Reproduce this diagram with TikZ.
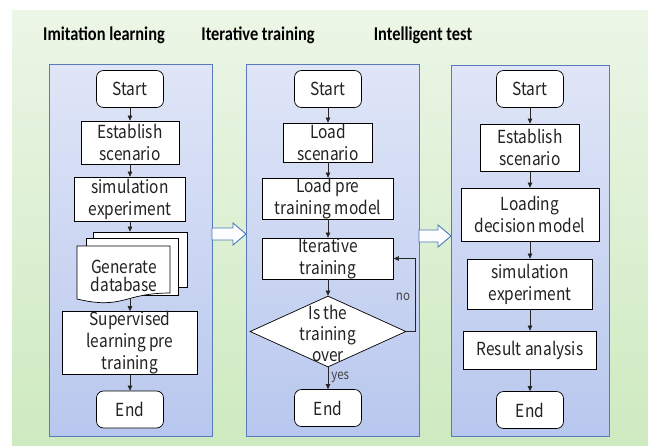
\documentclass[tikz,border=0pt]{standalone}
\usepackage{fontspec}
\usetikzlibrary{arrows.meta,shapes.geometric}
\newfontfamily\nodefont[FakeStretch=0.86]{Noto Sans CJK SC}
\newfontfamily\headfont[FakeStretch=0.84]{Carlito}
\definecolor{bgtop}{RGB}{236,246,231}
\definecolor{bgbot}{RGB}{206,234,192}
\definecolor{paneltop}{RGB}{224,230,247}
\definecolor{panelbot}{RGB}{184,199,238}
\definecolor{panelline}{RGB}{88,122,186}
\definecolor{bigarrow}{RGB}{74,120,192}
\definecolor{ink}{RGB}{34,34,34}
\begin{document}
\begin{tikzpicture}[x=1pt,y=-1pt,
  panel/.style={draw=panelline,line width=0.9pt,top color=paneltop,bottom color=panelbot},
  heading/.style={font=\headfont\bfseries\fontsize{19.5}{22}\selectfont,text=black},
  box/.style={draw=black,line width=0.7pt,fill=white,rectangle,inner sep=0pt,align=center,
    font=\nodefont\fontsize{18}{22}\selectfont,text=ink},
  term/.style={box,rounded corners=7pt,minimum width=67,minimum height=37},
  txt/.style={inner sep=0pt,align=center,font=\nodefont\fontsize{18}{22}\selectfont,text=ink},
  small/.style={inner sep=0pt,font=\nodefont\fontsize{13.5}{15}\selectfont,text=ink!85},
  flow/.style={draw=black!85,line width=0.6pt,-{Triangle[length=5pt,width=4.5pt]}},
  hollow/.style={draw=bigarrow,line width=0.9pt,fill=white!92!blue!8}]
% canvas and background
\useasboundingbox (0,0) rectangle (648,445);
\fill[white] (0,0) rectangle (648,445);
\shade[top color=bgtop,bottom color=bgbot] (12,10) rectangle (648,445);

% headings
\node[heading] (h1) at (104,35) {Imitation learning};
\node[heading] (h2) at (258,35) {Iterative training};
\node[heading] (h3) at (423,35) {Intelligent test};

% panels
\path[panel] (49,64) rectangle (212,436);
\path[panel] (246,64) rectangle (419,436);
\path[panel] (451,65) rectangle (609,436);

% hollow arrows between panels
\path[hollow] (212,228) -- (233,228) -- (233,223) -- (246,234) -- (233,245) -- (233,240) -- (212,240) -- cycle;
\path[hollow] (419,230) -- (438,230) -- (438,225) -- (451,236) -- (438,247) -- (438,242) -- (419,242) -- cycle;

% ---- Imitation learning ----
\node[term] (s1) at (130,89) {Start};
\node[box,minimum width=98,minimum height=43] (e1) at (130,142.5) {Establish\\scenario};
\node[box,minimum width=111,minimum height=44] (m1) at (130,199) {simulation\\experiment};
% stacked documents
\node[box,minimum width=94,minimum height=55] (d3) at (140,259.5) {};
\node[box,minimum width=92,minimum height=57] (d2) at (132,266.5) {};
\draw[black,line width=0.7pt,fill=white] (77,246) -- (170,246) -- (170,293)
  .. controls (123.5,293) and (123.5,310) .. (77,299) -- cycle;
\node[txt,font=\nodefont\fontsize{18}{18.5}\selectfont] (d1) at (124,276) {Generate\\database};
\coordinate (d1b) at (130,299);
\node[box,minimum width=135,minimum height=60] (p1) at (130,343) {Supervised\\learning pre\\training};
\node[term] (t1) at (130,409.5) {End};

\draw[flow] (s1) -- (e1);
\draw[flow] (e1) -- (m1);
\draw[flow] (m1) -- (m1 |- d3.north);
\draw[flow] (d1b) -- (p1);
\draw[flow] (p1) -- (t1);

% ---- Iterative training ----
\node[term] (s2) at (328,89) {Start};
\node[box,minimum width=89,minimum height=39] (l2) at (328,142.5) {Load\\scenario};
\node[box,minimum width=131,minimum height=41] (m2) at (328,198.5) {Load pre\\training model};
\node[box,minimum width=131,minimum height=41] (it2) at (328,258.5) {Iterative\\training};
\node[draw=black,line width=0.7pt,fill=white,diamond,inner sep=0pt,
  minimum width=156,minimum height=71] (q2) at (328,331.5) {};
\node[txt,font=\nodefont\fontsize{18}{21}\selectfont] (q2t) at (328,333) {Is the\\training\\over};
\node[term] (t2) at (328,408) {End};

\draw[flow] (s2) -- (l2);
\draw[flow] (l2) -- (m2);
\draw[flow] (m2) -- (it2);
\draw[flow] (it2) -- (q2);
\draw[flow] (q2) -- node[small,right=3pt,pos=0.45] (yes) {yes} (t2);
\draw[flow] (q2.east) -- ++(9,0) |- (it2.east);
\node[small] (no) at (403,297) {no};

% ---- Intelligent test ----
\node[term] (s3) at (530,89) {Start};
\node[box,minimum width=99,minimum height=47] (e3) at (530,147.5) {Establish\\scenario};
\node[box,minimum width=138,minimum height=53] (l3) at (530,214.5) {Loading\\decision model};
\node[box,minimum width=125,minimum height=50] (m3) at (530,284) {simulation\\experiment};
\node[box,minimum width=133,minimum height=38] (r3) at (530,350) {Result analysis};
\node[term] (t3) at (530,410) {End};

\draw[flow] (s3) -- (e3);
\draw[flow] (e3) -- (l3);
\draw[flow] (l3) -- (m3);
\draw[flow] (m3) -- (r3);
\draw[flow] (r3) -- (t3);
\end{tikzpicture}
\end{document}
